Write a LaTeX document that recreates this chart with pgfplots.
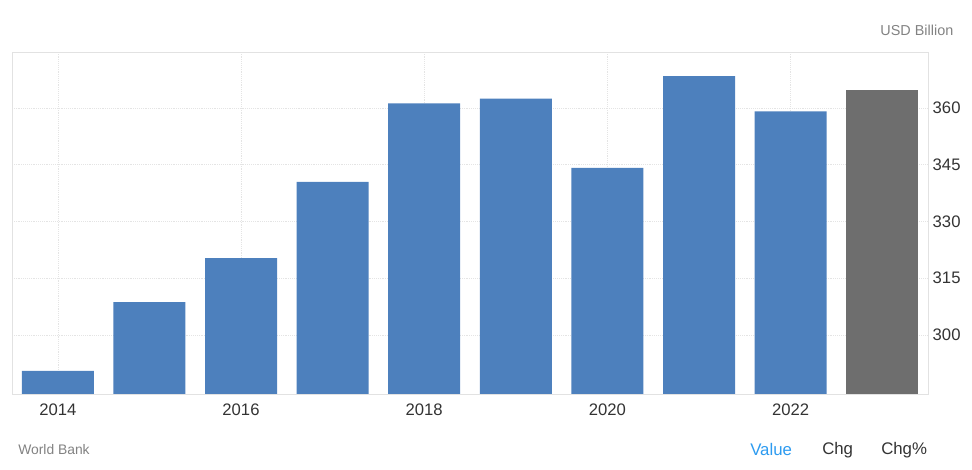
\documentclass[border=0pt]{standalone}
\usepackage{pgfplots}
\pgfplotsset{compat=1.18}
\usepackage{fontspec}
\setmainfont{Liberation Sans}
\definecolor{barblue}{RGB}{77,128,189}
\definecolor{bargray}{RGB}{110,110,110}
\definecolor{gridc}{RGB}{228,228,228}
\definecolor{axisc}{RGB}{226,226,226}
\definecolor{tickc}{RGB}{51,51,51}
\definecolor{notec}{RGB}{130,130,130}
\definecolor{valc}{RGB}{45,155,240}
\begin{document}
\begin{tikzpicture}
\useasboundingbox (0pt,0pt) rectangle (729pt,352.5pt);
\begin{axis}[
  at={(9pt,57pt)}, anchor=south west,
  width=687pt, height=256.5pt, scale only axis,
  xmin=2013.5, xmax=2023.5, ymin=284.4, ymax=374.8,
  ybar, bar width=54pt,
  xtick={2014,2016,2018,2020,2022},
  ytick={300,315,330,345,360},
  xmajorgrids, ymajorgrids,
  grid style={gridc, densely dotted, thin},
  axis line style={axisc},
  yticklabel pos=right,
  tick align=outside,
  major tick length=0pt,
  xtick style={draw=none},
  ytick style={draw=none},
  /pgf/number format/assume math mode=true,
  /pgf/number format/1000 sep={},
  tick label style={font=\fontsize{12.5}{15}\selectfont, text=tickc},
  yticklabel style={xshift=0pt},
  xticklabel style={yshift=-3.5pt},
]
\addplot[fill=barblue, draw=none, bar shift=0pt] coordinates {
(2014,290.5) (2015,308.7) (2016,320.3) (2017,340.5) (2018,361.2)
(2019,362.5) (2020,344.2) (2021,368.4) (2022,359.1)};
\addplot[fill=bargray, draw=none, bar shift=0pt] coordinates {(2023,364.8)};
\end{axis}
\node[anchor=east, text=notec, font=\fontsize{10.8}{13}\selectfont] at (718.5pt,330pt) {USD Billion};
\node[anchor=west, text=notec, font=\fontsize{10.4}{13}\selectfont, inner sep=0pt] at (13.5pt,15pt) {World Bank};
\node[anchor=west, text=valc, font=\fontsize{12.6}{15}\selectfont, inner sep=0pt] at (562.5pt,15pt) {Value};
\node[anchor=west, text=tickc, font=\fontsize{12.6}{15}\selectfont, inner sep=0pt] at (616.5pt,15pt) {Chg};
\node[anchor=west, text=tickc, font=\fontsize{12.6}{15}\selectfont, inner sep=0pt] at (660.75pt,15pt) {Chg\%};
\end{tikzpicture}
\end{document}
